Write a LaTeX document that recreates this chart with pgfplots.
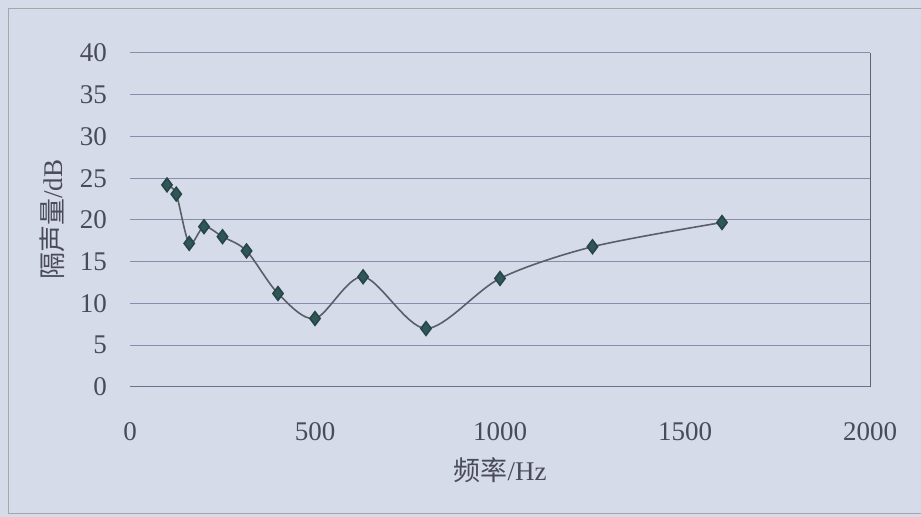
\documentclass[border=0pt]{standalone}
\usepackage{pgfplots}
\pgfplotsset{compat=1.18}
\usepackage{fontspec}
\setmainfont{Liberation Serif}
\newfontfamily\cjk{Noto Sans CJK SC}
\definecolor{bgcol}{HTML}{D6DBEA}
\definecolor{txtcol}{HTML}{4A4B58}
\definecolor{gridcol}{HTML}{8E8AAE}
\definecolor{linecol}{HTML}{5A5E66}
\definecolor{markcol}{HTML}{2F5758}
\begin{document}
\begin{tikzpicture}
\fill[bgcol] (0,0) rectangle (460.5pt,258.5pt);
\useasboundingbox (0,0) rectangle (460.5pt,258.5pt);
\draw[gray!70, line width=0.5pt] (465pt,254pt) -- (4pt,254pt) -- (4pt,1.5pt) -- (465pt,1.5pt);
\begin{axis}[
  at={(65pt,65pt)}, anchor=south west,
  scale only axis,
  width=370pt, height=167pt,
  xmin=0, xmax=2000, ymin=0, ymax=40,
  xtick={0,500,1000,1500,2000},
  ytick={0,5,...,40},
  ymajorgrids,
  grid style={gridcol, line width=0.5pt},
  axis x line*=bottom, axis y line*=left,
  x axis line style={gridcol!80!black, line width=0.5pt, -},
  y axis line style={draw=none},
  tick style={draw=none},
  every tick label/.append style={font=\fontsize{13.5}{14}\selectfont, text=txtcol},
  /pgf/number format/assume math mode=true,
  /pgf/number format/set thousands separator={},
  yticklabel style={xshift=-8pt},
  xticklabel style={yshift=-14pt},
  xlabel={{\cjk 频率}/Hz},
  ylabel={{\cjk 隔声量}/dB},
  label style={font=\fontsize{13.5}{14}\selectfont, text=txtcol},
  xlabel style={at={(axis description cs:0.5,-0.249)}, anchor=center},
  ylabel style={at={(axis description cs:-0.105,0.5)}, anchor=center},
  clip=false,
]
\addplot[linecol, line width=0.8pt, smooth, tension=0.5, mark=diamond*, mark size=3.4pt,
  mark options={fill=markcol, draw=markcol!80!black}] coordinates {
  (100,24.2) (125,23.1) (160,17.2) (200,19.2) (250,18.0) (315,16.3) (400,11.2)
  (500,8.2) (630,13.2) (800,7.0) (1000,13.0) (1250,16.8) (1600,19.7)
};
\draw[gridcol!70!black, line width=0.5pt] (axis cs:2000,0) -- (axis cs:2000,40);
\end{axis}
\end{tikzpicture}
\end{document}
